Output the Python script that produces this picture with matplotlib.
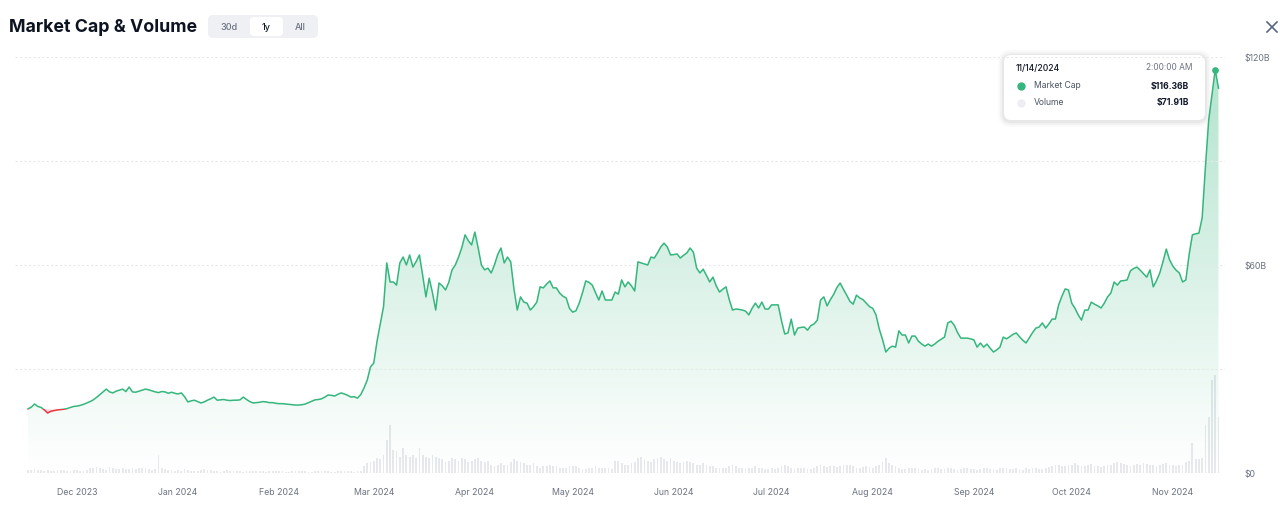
import numpy as np
import pandas as pd
import matplotlib
matplotlib.use('Agg')
import matplotlib.pyplot as plt
import matplotlib.dates as mdates
from matplotlib.patches import FancyBboxPatch, Rectangle
from matplotlib.lines import Line2D
from matplotlib.transforms import IdentityTransform
from matplotlib.colors import LinearSegmentedColormap

plt.rcParams['font.family'] = ['Inter', 'DejaVu Sans']

W, H = 1280, 521

# market cap in $B, one value per day
cap_nov23 = [18.5, 19.0, 19.9, 19.2, 18.9, 18.2, 17.3, 17.8, 18.0, 18.2, 18.3, 18.4, 18.6, 18.9, 19.2]
cap_dec23 = [19.3, 19.5, 19.8, 20.2, 20.6, 21.1, 21.8, 22.6, 23.4, 24.2, 23.4, 23.1, 23.6, 23.9, 24.2, 23.5,
             24.8, 23.4, 23.3, 23.6, 23.9, 24.2, 24.0, 23.7, 23.4, 23.2, 23.5, 23.4, 23.0, 23.3, 23.0]
cap_jan24 = [22.8, 23.1, 22.0, 20.5, 20.8, 21.0, 20.6, 20.2, 20.5, 21.0, 21.4, 21.9, 21.0, 21.1, 21.2, 21.0,
             20.9, 21.0, 21.0, 21.1, 21.9, 21.2, 20.6, 20.2, 20.3, 20.4, 20.6, 20.5, 20.3, 20.3, 20.1]
cap_feb24 = [20.0, 20.0, 19.9, 19.8, 19.7, 19.6, 19.6, 19.7, 19.9, 20.3, 20.7, 21.1, 21.2, 21.4, 21.9, 22.5,
             22.4, 22.2, 22.7, 23.1, 22.8, 22.4, 21.9, 22.0, 21.6, 22.6, 24.5, 26.8, 30.6]
cap_mar24 = [31.7, 38.0, 43.0, 48.0, 60.6, 55.1, 55.1, 54.2, 60.6, 62.3, 60.0, 62.9, 59.4, 61.0, 62.9, 57.0,
             50.8, 56.2, 52.0, 47.0, 54.8, 54.0, 52.8, 55.0, 58.6, 60.0, 62.3, 65.0, 68.7, 67.0, 65.8]
cap_apr24 = [69.5, 65.0, 60.0, 58.6, 59.1, 57.7, 60.0, 63.0, 64.9, 60.6, 62.3, 60.9, 53.0, 47.0, 50.8, 49.3,
             49.0, 47.0, 48.0, 49.3, 53.7, 53.4, 54.5, 55.4, 53.4, 53.4, 51.9, 51.0, 50.5, 47.5]
cap_may24 = [46.4, 46.8, 49.0, 52.0, 55.4, 55.0, 54.2, 52.0, 49.9, 52.5, 49.9, 49.9, 49.9, 52.2, 51.6, 55.7,
             53.7, 55.1, 54.0, 52.5, 60.9, 60.6, 60.3, 60.0, 62.3, 62.0, 63.5, 65.2, 66.3, 65.2, 62.9]
cap_jun24 = [63.0, 63.2, 62.0, 62.8, 63.5, 64.9, 63.7, 59.1, 57.7, 58.8, 57.0, 55.1, 56.5, 54.0, 52.2, 53.0,
             53.7, 50.0, 47.0, 47.3, 47.2, 47.0, 46.7, 45.6, 47.5, 49.0, 47.6, 49.3, 47.3, 47.3]
cap_jul24 = [48.5, 48.5, 48.5, 44.0, 40.1, 40.4, 44.4, 39.8, 41.8, 42.0, 42.1, 41.2, 42.5, 43.0, 44.1, 49.9,
             50.8, 48.2, 50.0, 51.5, 53.5, 54.8, 53.0, 51.3, 49.5, 48.7, 51.3, 50.5, 50.0, 49.0, 48.0]
cap_aug24 = [47.5, 45.6, 41.5, 38.5, 34.9, 36.0, 36.6, 36.3, 41.0, 39.8, 39.8, 37.5, 39.5, 39.5, 38.0, 37.2,
             36.6, 37.2, 36.6, 37.2, 38.0, 38.6, 39.2, 43.3, 43.8, 42.6, 40.5, 38.9, 38.9, 38.9, 38.7]
cap_sep24 = [38.4, 36.3, 37.5, 36.3, 37.2, 36.0, 34.9, 35.5, 36.3, 39.2, 38.7, 39.3, 40.0, 40.4, 39.3, 38.3,
             37.5, 39.0, 40.5, 41.8, 42.1, 43.3, 41.8, 43.0, 44.4, 44.4, 48.5, 51.0, 53.1, 52.8]
cap_oct24 = [49.0, 47.5, 45.6, 44.1, 47.0, 47.0, 49.3, 48.7, 48.2, 47.6, 49.0, 50.8, 51.9, 55.1, 54.2, 55.4,
             55.5, 55.7, 58.3, 59.0, 59.4, 58.5, 57.5, 56.5, 58.6, 53.7, 55.5, 57.7, 61.0, 64.6, 61.5]
cap_nov24 = [59.7, 58.5, 57.7, 55.1, 55.7, 63.0, 68.7, 69.0, 69.2, 73.6, 88.3, 101.8, 109.0, 116.36, 111.0]

# volume in $B, one bar per day
vol_nov23 = [2.5, 2.0, 3.0, 2.5, 2.0, 1.8, 2.2, 1.5, 1.2, 2.0, 2.5, 2.0, 1.8, 1.6, 2.0]
vol_dec23 = [2.2, 1.8, 1.6, 2.5, 3.5, 3.8, 4.5, 3.6, 2.8, 2.4, 4.2, 3.5, 3.2, 3.0, 3.8, 3.1,
             2.7, 3.3, 3.0, 3.4, 3.9, 3.5, 2.6, 2.4, 2.8, 13.0, 3.6, 3.2, 2.5, 2.1, 1.8]
vol_jan24 = [2.0, 1.8, 2.6, 2.2, 1.5, 1.2, 1.4, 2.3, 2.8, 2.1, 1.9, 1.6, 1.2, 1.0, 1.6, 1.9,
             1.5, 1.3, 1.2, 1.1, 1.0, 1.4, 1.8, 1.6, 1.3, 1.2, 1.1, 1.0, 1.2, 1.4, 1.3]
vol_feb24 = [1.2, 1.1, 1.0, 0.9, 1.1, 1.3, 1.2, 1.1, 1.4, 1.0, 0.9, 1.3, 1.5, 1.4, 1.2, 1.3,
             1.0, 0.9, 1.2, 1.5, 1.4, 1.3, 1.2, 1.0, 1.1, 1.8, 5.0, 7.5, 8.0]
vol_mar24 = [9, 11, 10, 13, 24, 35, 17, 16, 12, 18, 13, 12, 13, 11, 18, 13,
             12, 11, 13, 12, 11, 10, 8, 9, 11, 10, 9, 11, 10, 8, 9]
vol_apr24 = [10, 11, 9, 8, 9, 6, 5, 6, 7, 6, 6, 8, 10, 9, 8, 7,
             6, 6, 7, 5, 4, 5, 5, 6, 5, 5, 4, 3.5, 4, 5]
vol_may24 = [5, 5, 4, 3, 3, 4, 4, 5, 4, 3.5, 4, 3.5, 3, 9, 8.5, 7,
             6, 6, 7, 8, 11, 12, 10, 9, 8, 10, 11, 12, 10, 9, 11]
vol_jun24 = [9, 8, 7, 8, 9, 8, 7, 6, 6, 7, 6, 5, 5, 4, 4, 3.5,
             4, 5, 6, 5, 4, 3.5, 3, 3.5, 4, 5, 4, 3.5, 3, 3]
vol_jul24 = [4, 3, 4, 5, 6, 5, 4, 3, 3.5, 4, 4, 3, 3, 4, 5, 5.5,
             5, 4.5, 5, 5, 4.5, 5, 5.5, 6, 5.5, 5, 4, 3.5, 4.5, 5, 4.5]
vol_aug24 = [4, 5, 6, 8, 11, 7, 6, 5, 3.5, 3, 3, 4, 4, 3.5, 3, 2.5,
             3, 2.5, 3, 3.5, 4, 3, 3, 4, 3.5, 3, 2.5, 3, 3.5, 4, 3]
vol_sep24 = [3, 2.5, 3, 3.5, 4, 3, 3, 2.5, 3.5, 4, 3.5, 3, 3, 4, 3, 2.5,
             3.5, 3, 4, 3.5, 3, 3, 4, 4.5, 5, 5.5, 6, 5, 5, 6]
vol_oct24 = [6, 7, 5.5, 5, 5, 6, 6.5, 5, 5, 4.5, 5, 6, 5.5, 7, 8, 7,
             6.5, 5.5, 5, 6, 6.5, 6, 7, 6.5, 6, 5.5, 5, 5.5, 6.5, 7, 6]
vol_nov24 = [6, 5, 5.5, 6, 8, 9, 22, 10, 10, 11, 35, 41, 68, 71.91, 41]

tick_fmt = '%b %Y'
y_ticks = [0, 30, 60, 90, 120]
y_labels = ['$0', '', '$60B', '', '$120B']

tip_date = '11/14/2024'
tip_time = '2:00:00 AM'
tip_cap = '$116.36B'
tip_vol = '$71.91B'

cap = np.array(cap_nov23 + cap_dec23 + cap_jan24 + cap_feb24 + cap_mar24 + cap_apr24 + cap_may24
               + cap_jun24 + cap_jul24 + cap_aug24 + cap_sep24 + cap_oct24 + cap_nov24)
vol = np.array(vol_nov23 + vol_dec23 + vol_jan24 + vol_feb24 + vol_mar24 + vol_apr24 + vol_may24
               + vol_jun24 + vol_jul24 + vol_aug24 + vol_sep24 + vol_oct24 + vol_nov24)
dates = pd.date_range('2023-11-16', periods=len(cap), freq='D')

GREEN = '#34b67d'
RED = '#ea3943'
GREY_TXT = '#6b7280'

fig = plt.figure(figsize=(W / 100, H / 100), dpi=100)
fig.patch.set_facecolor('white')

# plot area in pixels: x 15..1225, y 57..473
ax = fig.add_axes([15 / W, (H - 473) / H, 1210 / W, 416 / H])
axv = ax.twinx()
ax.set_zorder(axv.get_zorder() + 1)
ax.patch.set_visible(False)

# volume bars
axv.bar(dates, vol, width=0.55, color='#e7e9ed', zorder=1)
axv.set_ylim(0, 305)
axv.set_yticks([])
for s in axv.spines.values():
    s.set_visible(False)

x = mdates.date2num(dates)
base = cap[0]

# gradient fill under the line
cmap = LinearSegmentedColormap.from_list('g', [(0.2, 0.71, 0.49, 0.0), (0.2, 0.71, 0.49, 0.38)])
grad = np.linspace(0, 1, 256).reshape(-1, 1)
poly = ax.fill_between(dates, cap, 0, color='none', lw=0)
im = ax.imshow(grad, cmap=cmap, aspect='auto', origin='lower',
               extent=[x[0], x[-1], 0, 120], zorder=1, interpolation='bilinear')
im.set_clip_path(poly.get_paths()[0], transform=ax.transData)

# red part under the starting value
ax.fill_between(dates, cap, base, where=cap < base, interpolate=True, color=RED, alpha=0.22, lw=0, zorder=2)

up, = ax.plot(dates, cap, color=GREEN, lw=1.1, zorder=3, solid_joinstyle='round')
dn, = ax.plot(dates, cap, color=RED, lw=1.1, zorder=3, solid_joinstyle='round')
clip_up = Rectangle((x[0] - 5, base), 500, 300, transform=ax.transData)
clip_dn = Rectangle((x[0] - 5, -10), 500, base + 10, transform=ax.transData)
up.set_clip_path(clip_up)
dn.set_clip_path(clip_dn)

i_peak = int(np.argmax(cap))
ax.plot(dates[i_peak], cap[i_peak], 'o', ms=3.8, color=GREEN, zorder=5)

ax.set_xlim(pd.Timestamp('2023-11-12'), pd.Timestamp('2024-11-17 00:00'))
ax.set_ylim(0, 120)
ax.yaxis.tick_right()
ax.set_yticks(y_ticks)
ax.set_yticklabels(y_labels)
ax.tick_params(axis='y', length=0, pad=14, labelsize=6.3, labelcolor=GREY_TXT)
ax.xaxis.set_major_locator(mdates.MonthLocator())
ax.xaxis.set_major_formatter(mdates.DateFormatter(tick_fmt))
ax.tick_params(axis='x', length=0, pad=11, labelsize=6.3, labelcolor=GREY_TXT)
ax.grid(axis='y', color='#e8e8ea', lw=0.8, ls=(0, (2, 2)))
ax.grid(axis='x', visible=False)
for s in ax.spines.values():
    s.set_visible(False)

# header
px = IdentityTransform()


def fy(y):
    return H - y


fig.text(9 / W, 1 - 27 / H, 'Market Cap & Volume', fontsize=12.8, fontweight='bold',
         color='#0d1421', ha='left', va='center')
fig.add_artist(FancyBboxPatch((208, fy(38)), 110, 23, boxstyle='round,pad=0,rounding_size=5',
                              transform=px, fc='#eef0f3', ec='none'))
fig.add_artist(FancyBboxPatch((250, fy(36)), 33, 19, boxstyle='round,pad=0,rounding_size=4',
                              transform=px, fc='white', ec='none'))
for lbl, xx, col in [('30d', 229, GREY_TXT), ('1y', 266, '#111827'), ('All', 300, GREY_TXT)]:
    fig.text(xx / W, 1 - 27 / H, lbl, fontsize=6.5, color=col, ha='center', va='center',
             fontweight='medium')

# close cross
fig.add_artist(Line2D([1267, 1277], [fy(22), fy(32)], transform=px, color='#58667e', lw=1.2))
fig.add_artist(Line2D([1267, 1277], [fy(32), fy(22)], transform=px, color='#58667e', lw=1.2))

# tooltip
for grow, a in [(6, 0.02), (4, 0.03), (2, 0.045)]:
    fig.add_artist(FancyBboxPatch((1004 - grow, fy(120) - grow - 1), 201 + 2 * grow, 65 + 2 * grow,
                                  boxstyle='round,pad=0,rounding_size=%d' % (7 + grow),
                                  transform=px, fc='black', ec='none', alpha=a))
fig.add_artist(FancyBboxPatch((1004, fy(120)), 201, 65, boxstyle='round,pad=0,rounding_size=7',
                              transform=px, fc='white', ec='none'))
fig.text(1016 / W, 1 - 68 / H, tip_date, fontsize=6.2, color='#111827', ha='left', va='center',
         fontweight='medium')
fig.text(1193 / W, 1 - 68 / H, tip_time, fontsize=6.0, color=GREY_TXT, ha='right', va='center')
fig.add_artist(Line2D([1021], [fy(86)], transform=px, marker='o', ms=5, color=GREEN, lw=0))
fig.add_artist(Line2D([1021], [fy(103)], transform=px, marker='o', ms=5, color='#eceef1', lw=0))
fig.text(1034 / W, 1 - 86 / H, 'Market Cap', fontsize=6.2, color='#4b5563', ha='left', va='center')
fig.text(1034 / W, 1 - 103 / H, 'Volume', fontsize=6.2, color='#4b5563', ha='left', va='center')
fig.text(1189 / W, 1 - 86 / H, tip_cap, fontsize=6.2, color='#111827', ha='right', va='center',
         fontweight='bold')
fig.text(1189 / W, 1 - 103 / H, tip_vol, fontsize=6.2, color='#111827', ha='right', va='center',
         fontweight='bold')

fig.savefig('out.png', dpi=100)
